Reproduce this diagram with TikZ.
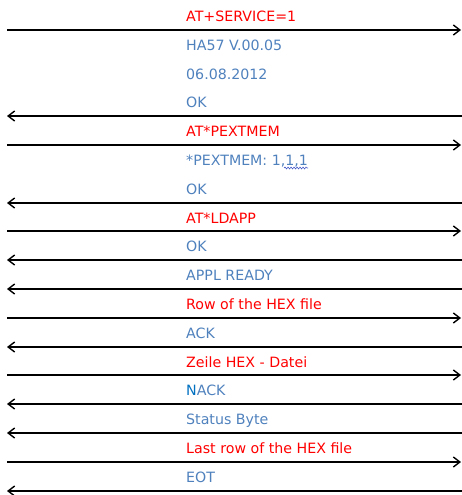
\documentclass[tikz,border=0pt]{standalone}
\usepackage{fontspec}
\setmainfont{DejaVu Sans}
\usetikzlibrary{arrows.meta,decorations.pathmorphing}
\definecolor{cmdred}{RGB}{255,0,0}
\definecolor{replyblue}{RGB}{79,129,189}
\definecolor{nackblue}{RGB}{0,112,192}
\definecolor{wavyblue}{RGB}{70,90,200}

\begin{document}
\begin{tikzpicture}[x=1pt, y=-1pt]
        \tikzstyle{cmd}=[anchor=base west,inner sep=0pt,text=cmdred,font=\fontsize{14.2}{16}\selectfont]
        \tikzstyle{reply}=[anchor=base west,inner sep=0pt,text=replyblue,font=\fontsize{14.2}{16}\selectfont]
        \tikzstyle{msg}=[line width=1.4pt,-{Straight Barb[length=6.5pt,width=10pt,line width=1.4pt]}]

        \useasboundingbox (0,0) rectangle (462,495);

        % messages
        \node[cmd] (M_1) at (186,21.5)  {AT+SERVICE=1};
        \node[reply] (M_2) at (186,50.3)  {HA57 V.00.05};
        \node[reply] (M_3) at (186,79.1)  {06.08.2012};
        \node[reply] (M_4) at (186,107.9)  {OK};
        \node[cmd] (M_5) at (186,136.7)  {AT*PEXTMEM};
        \node[reply] (M_6) at (186,165.5)  {*PEXTMEM: 1,1,1};
        \node[reply] (M_7) at (186,194.3)  {OK};
        \node[cmd] (M_8) at (186,223.1)  {AT*LDAPP};
        \node[reply] (M_9) at (186,251.9)  {OK};
        \node[reply] (M_10) at (186,280.7)  {APPL READY};
        \node[cmd] (M_11) at (186,309.5)  {Row of the HEX file};
        \node[reply] (M_12) at (186,338.3)  {ACK};
        \node[cmd] (M_13) at (186,367.1)  {Zeile HEX - Datei};
        \node[reply] (M_14) at (186,395.9)  {{\color{nackblue}N}ACK};
        \node[reply] (M_15) at (186,424.7)  {Status Byte};
        \node[cmd] (M_16) at (186,453.5)  {Last row of the HEX file};
        \node[reply] (M_17) at (186,482.3)  {EOT};

        % spell check mark
        \draw[wavyblue,line width=0.6pt,decorate,decoration={snake,amplitude=0.9pt,segment length=3pt}]
            ([xshift=-24pt,yshift=-2.5pt]M_6.base east) -- ([yshift=-2.5pt]M_6.base east);

        % ends of the arrows
        \coordinate (L_1) at (7,30);    \coordinate (R_1) at (461,30);
        \coordinate (L_4) at (7,116);   \coordinate (R_4) at (462,116);
        \coordinate (L_5) at (7,145);   \coordinate (R_5) at (461,145);
        \coordinate (L_7) at (7,203);   \coordinate (R_7) at (462,203);
        \coordinate (L_8) at (7,231);   \coordinate (R_8) at (461,231);
        \coordinate (L_9) at (7,260);   \coordinate (R_9) at (462,260);
        \coordinate (L_10) at (7,289);  \coordinate (R_10) at (462,289);
        \coordinate (L_11) at (7,318);  \coordinate (R_11) at (461,318);
        \coordinate (L_12) at (7,347);  \coordinate (R_12) at (462,347);
        \coordinate (L_13) at (7,375);  \coordinate (R_13) at (461,375);
        \coordinate (L_14) at (7,404);  \coordinate (R_14) at (462,404);
        \coordinate (L_15) at (7,433);  \coordinate (R_15) at (462,433);
        \coordinate (L_16) at (7,462);  \coordinate (R_16) at (461,462);
        \coordinate (L_17) at (7,491);  \coordinate (R_17) at (462,491);

        \draw[msg] (L_1) -- (R_1);
        \draw[msg] (R_4) -- (L_4);
        \draw[msg] (L_5) -- (R_5);
        \draw[msg] (R_7) -- (L_7);
        \draw[msg] (L_8) -- (R_8);
        \draw[msg] (R_9) -- (L_9);
        \draw[msg] (R_10) -- (L_10);
        \draw[msg] (L_11) -- (R_11);
        \draw[msg] (R_12) -- (L_12);
        \draw[msg] (L_13) -- (R_13);
        \draw[msg] (R_14) -- (L_14);
        \draw[msg] (R_15) -- (L_15);
        \draw[msg] (L_16) -- (R_16);
        \draw[msg] (R_17) -- (L_17);
    \end{tikzpicture}
\end{document}
